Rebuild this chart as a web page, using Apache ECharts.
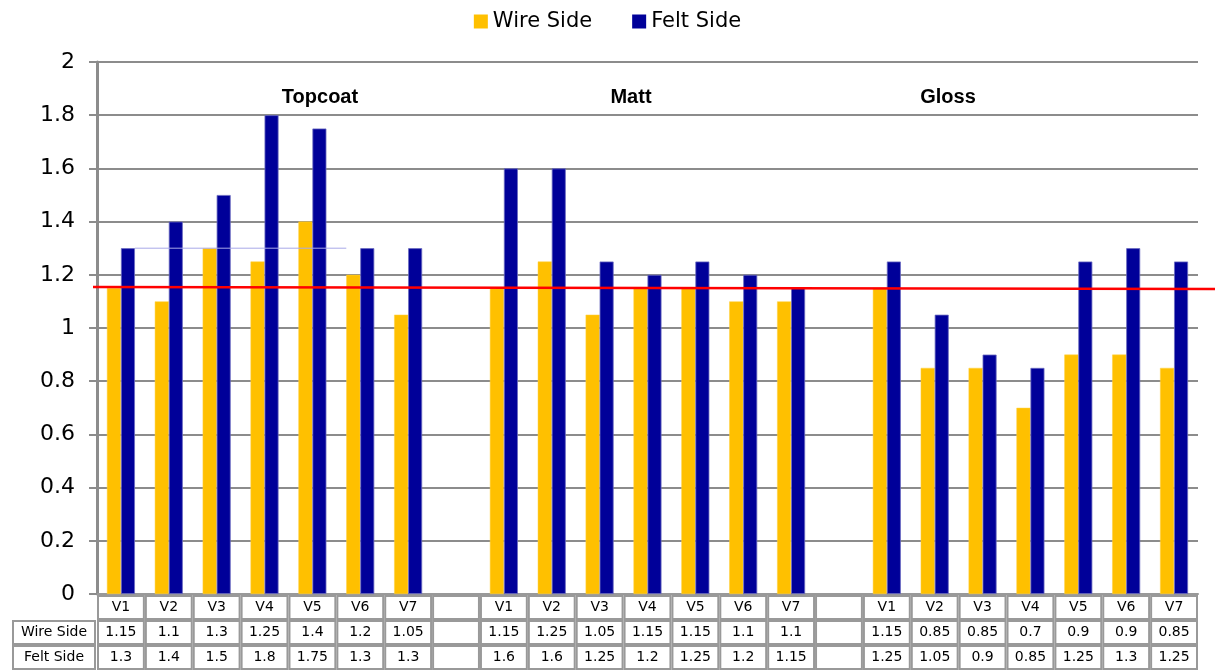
<!DOCTYPE html>
<html>
<head>
<meta charset="utf-8">
<script src="https://cdn.jsdelivr.net/npm/echarts@6/dist/echarts.min.js"></script>
<style>html,body{margin:0;padding:0;background:#fff}#c{width:1215px;height:670px}</style>
</head>
<body>
<div id="c"></div>
<script>
const categories = ['V1','V2','V3','V4','V5','V6','V7','','V1','V2','V3','V4','V5','V6','V7','','V1','V2','V3','V4','V5','V6','V7'];
const wireSide = [1.15,1.1,1.3,1.25,1.4,1.2,1.05,null,1.15,1.25,1.05,1.15,1.15,1.1,1.1,null,1.15,0.85,0.85,0.7,0.9,0.9,0.85];
const feltSide = [1.3,1.4,1.5,1.8,1.75,1.3,1.3,null,1.6,1.6,1.25,1.2,1.25,1.2,1.15,null,1.25,1.05,0.9,0.85,1.25,1.3,1.25];
const seriesNames = ['Wire Side','Felt Side'];
const groupLabels = ['Topcoat','Matt','Gloss'];
const referenceValue = 1.15;

const FONT = 'DejaVu Sans';
const chart = echarts.init(document.getElementById('c'));
chart.setOption({
  animation: false,
  backgroundColor: '#fff',
  legend: {
    top: 6, left: 'center', itemWidth: 14, itemHeight: 14, itemGap: 40, icon: 'rect',
    itemStyle: {borderWidth: 0},
    textStyle: {fontFamily: FONT, fontSize: 21, color: '#000'},
    data: seriesNames
  },
  grid: {left: 97, right: 17, top: 62, bottom: 76},
  xAxis: {
    type: 'category', data: categories,
    axisLine: {show: true, lineStyle: {color: '#999', width: 2}},
    axisTick: {show: false}, axisLabel: {show: false}, splitLine: {show: false}
  },
  yAxis: {
    type: 'value', min: 0, max: 2, interval: 0.2,
    axisLine: {show: true, lineStyle: {color: '#8c8c8c', width: 3}},
    axisTick: {show: true, length: 8, lineStyle: {color: '#8c8c8c', width: 2}},
    axisLabel: {fontFamily: FONT, fontSize: 22, color: '#000', margin: 22,
      formatter: v => String(+v.toFixed(2))},
    splitLine: {show: true, lineStyle: {color: '#8c8c8c', width: 2}}
  },
  series: [
    {name: seriesNames[0], type: 'bar', data: wireSide, barWidth: 14, barGap: '0%',
     itemStyle: {color: '#FFC000', borderColor: '#FFD040', borderWidth: 0.5}},
    {name: seriesNames[1], type: 'bar', data: feltSide, barWidth: 14,
     itemStyle: {color: '#000099', borderColor: '#6a6ac0', borderWidth: 0.8}}
  ]
});

function fmt(v){ return v == null ? '' : String(v); }

function buildExtras(){
  const g = [];
  const x0 = chart.convertToPixel({xAxisIndex: 0}, 0);
  const x1 = chart.convertToPixel({xAxisIndex: 0}, 1);
  const step = x1 - x0;
  const y0 = chart.convertToPixel({yAxisIndex: 0}, 0);
  const rowH = 25;
  const rows = [
    {label: null, vals: categories},
    {label: seriesNames[0], vals: wireSide.map(fmt)},
    {label: seriesNames[1], vals: feltSide.map(fmt)}
  ];
  rows.forEach((r, ri) => {
    const top = y0 + 1 + ri * rowH;
    if (r.label) {
      g.push({type: 'rect', shape: {x: 13, y: top + 1, width: 82, height: rowH - 2},
        style: {fill: '#fff', stroke: '#999', lineWidth: 2}, z: 10});
      g.push({type: 'text', x: 54, y: top + rowH / 2,
        style: {text: r.label, fontFamily: FONT, fontSize: 14, fill: '#000', align: 'center', verticalAlign: 'middle'}, z: 11});
    }
    categories.forEach((c, i) => {
      const cx = chart.convertToPixel({xAxisIndex: 0}, i);
      g.push({type: 'rect', shape: {x: cx - step / 2 + 1, y: top + 1, width: step - 2, height: rowH - 2},
        style: {fill: '#fff', stroke: '#999', lineWidth: 2}, z: 10});
      g.push({type: 'text', x: cx, y: top + rowH / 2,
        style: {text: r.vals[i], fontFamily: FONT, fontSize: 14, fill: '#000', align: 'center', verticalAlign: 'middle'}, z: 11});
    });
  });
  const yr = chart.convertToPixel({yAxisIndex: 0}, referenceValue);
  g.push({type: 'line', shape: {x1: 93, y1: yr - 1, x2: 1215, y2: yr + 1},
    style: {stroke: '#ff0000', lineWidth: 2.5}, z: 20});
  const yl = chart.convertToPixel({yAxisIndex: 0}, feltSide[0]);
  g.push({type: 'line', shape: {x1: x0 + 14, y1: yl, x2: chart.convertToPixel({xAxisIndex: 0}, 5) - 14, y2: yl},
    style: {stroke: '#a8a8e8', lineWidth: 1}, z: 5});
  const labelPos = [320, 631, 948];
  groupLabels.forEach((t, i) => {
    g.push({type: 'text', x: labelPos[i], y: 97,
      style: {text: t, fontFamily: 'Liberation Sans', fontWeight: 'bold', fontSize: 20, fill: '#000', align: 'center', verticalAlign: 'middle'}, z: 12});
  });
  chart.setOption({graphic: {elements: g}});
}
buildExtras();
</script>
</body>
</html>
